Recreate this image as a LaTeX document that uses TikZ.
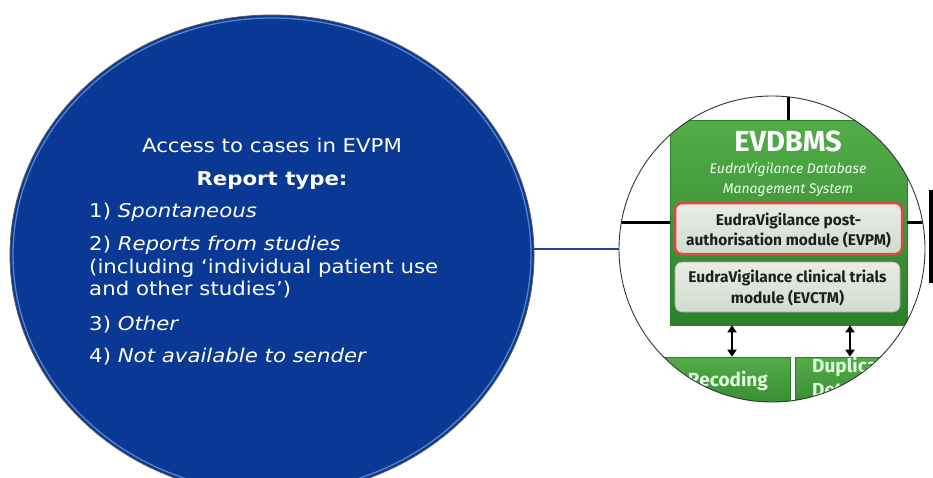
\documentclass[tikz,border=0pt]{standalone}
\usepackage{fontspec}
\setmainfont{DejaVu Sans}
\newfontfamily\fira{Fira Sans}
\usetikzlibrary{arrows.meta,shapes.geometric}
\definecolor{evblue}{RGB}{9,57,148}
\definecolor{rimblue}{RGB}{110,150,215}
\definecolor{evgreen}{RGB}{62,155,58}
\definecolor{evgreenlt}{RGB}{84,172,72}
\definecolor{evgreendk}{RGB}{44,128,42}
\definecolor{boxgray}{RGB}{210,219,206}
\definecolor{boxgraylt}{RGB}{232,237,229}
\definecolor{evred}{RGB}{222,72,72}
\definecolor{linkblue}{RGB}{30,70,150}
\tikzset{
  lt/.style={text=white, font=\fontsize{19}{21}\selectfont, inner sep=0pt, xscale=1.12, transform shape},
  gbox/.style={rectangle, top color=evgreenlt, bottom color=evgreendk, draw=evgreendk, line width=0.6pt, inner sep=0pt},
  mbox/.style={rectangle, rounded corners=7pt, top color=boxgraylt, bottom color=boxgray, inner sep=0pt},
  mtext/.style={font=\fira\bfseries\fontsize{15.5}{17}\selectfont, text=black!88, inner sep=0pt},
  lowtext/.style={font=\fira\bfseries\fontsize{19}{21}\selectfont, text=white!88!green, inner sep=0pt},
  bk/.style={black, line width=2.5pt},
  dbl/.style={black, line width=2.4pt, {Triangle[length=7pt,width=9pt]}-{Triangle[length=7pt,width=9pt]}},
  conn/.style={linkblue, line width=1.4pt}
}
\begin{document}
\begin{tikzpicture}[x=1pt, y=-1pt]
\useasboundingbox (0,0) rectangle (933,477);
% big ellipse
\node[ellipse, fill=evblue, draw=black!65, line width=0.8pt, minimum width=524pt, minimum height=480pt, inner sep=0pt] (ev) at (272,255) {};
\draw[rimblue, line width=1.3pt, opacity=0.8] (272,255) ellipse [x radius=259, y radius=237];
\draw[evblue, line width=1.2pt] (272,255) ellipse [x radius=256.8, y radius=234.8];
% texts
\node[lt, anchor=base] (t1) at (272,152) {Access to cases in EVPM};
\node[lt, anchor=base, font=\bfseries\fontsize{19}{21}\selectfont] (t2) at (272,185) {Report type:};
\node[lt, anchor=base west] (t3) at (89,217) {1) \textit{Spontaneous}};
\node[lt, anchor=base west] (t4) at (89,250) {2) \textit{Reports from studies}};
\node[lt, anchor=base west] (t5) at (89,273) {(including ‘individual patient use};
\node[lt, anchor=base west] (t6) at (89,295) {and other studies’)};
\node[lt, anchor=base west] (t7) at (89,330) {3) \textit{Other}};
\node[lt, anchor=base west] (t8) at (89,362) {4) \textit{Not available to sender}};
% zoomed circle contents
\begin{scope}
\clip (772,249) circle [radius=153];
\fill[white] (772,249) circle [radius=153];
\node[gbox, minimum width=237pt, minimum height=205pt] (evdbms) at (788.5,222.5) {};
\draw[bk] (evdbms.north) -- ++(0,-40);
\draw[bk] (evdbms.west) -- ++(-60,0);
\draw[bk] (evdbms.east) -- ++(40,0);
\node[font=\fira\bfseries\fontsize{29}{31}\selectfont, text=white, inner sep=0pt] (title) at (788,141) {EVDBMS};
\node[font=\fira\itshape\fontsize{14}{16}\selectfont, text=white!92!green, inner sep=0pt] (sub1) at (788,170) {EudraVigilance Database};
\node[font=\fira\itshape\fontsize{14}{16}\selectfont, text=white!92!green, inner sep=0pt] (sub2) at (788,190) {Management System};
\node[mbox, draw=evred, line width=2.5pt, minimum width=227pt, minimum height=51pt] (evpm) at (788.5,228.5) {};
\node[mtext] (evpm1) at (788.5,221) {EudraVigilance post-};
\node[mtext] (evpm2) at (788.5,240) {authorisation module (EVPM)};
\node[mbox, draw=black!35, line width=0.6pt, minimum width=225pt, minimum height=50pt] (evctm) at (787.5,287) {};
\node[mtext] (evctm1) at (787.5,278) {EudraVigilance clinical trials};
\node[mtext] (evctm2) at (787.5,298) {module (EVCTM)};
\node[gbox, minimum width=190pt, minimum height=66pt] (reco) at (695,390) {};
\node[gbox, minimum width=145pt, minimum height=66pt] (dup) at (867.5,390) {};
\draw[dbl] (732,0 |- evdbms.south) -- (732,0 |- reco.north);
\draw[dbl] (850,0 |- evdbms.south) -- (850,0 |- dup.north);
\node[lowtext, anchor=east] (recot) at (768,381) {Recoding};
\node[lowtext, anchor=west] (dupt1) at (812,367) {Duplicate};
\node[lowtext, anchor=west] (dupt2) at (812,389) {Detection};
\end{scope}
\node[circle, draw=black!80, line width=0.9pt, minimum size=306pt, inner sep=0pt] (zoom) at (772,249) {};
\fill[black] (929,190) rectangle (933,283);
% connector
\draw[conn] (zoom.west) -- (zoom.west -| ev.east);
\end{tikzpicture}
\end{document}
